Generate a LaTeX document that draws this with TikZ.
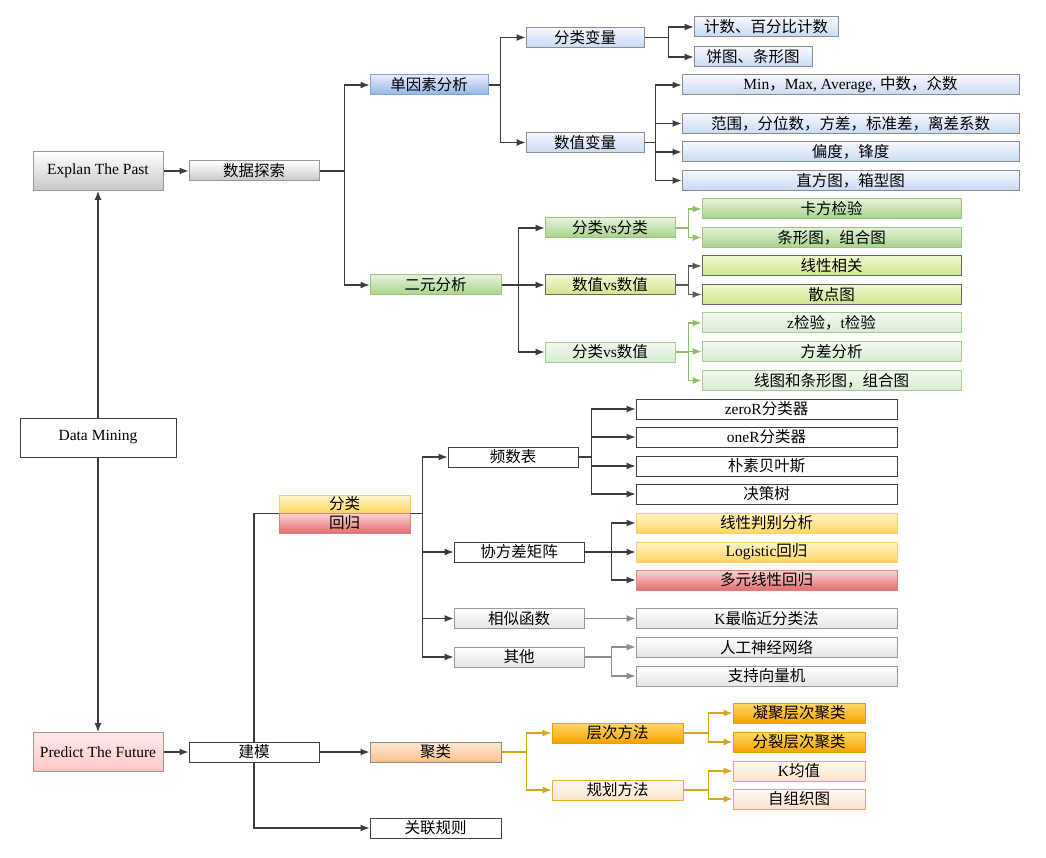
\documentclass[tikz,border=0pt]{standalone}
\usepackage{fontspec}
\setmainfont{Liberation Serif}
\newfontfamily\cjk{Noto Sans CJK SC}
\newcommand\latn[1]{{\rmfamily #1}}
\usetikzlibrary{arrows.meta}

\definecolor{linkgrey}{HTML}{3C3C3C}
\definecolor{linkgreen}{HTML}{8CC06E}
\definecolor{linkgold}{HTML}{D9A521}

\begin{document}
\begin{tikzpicture}[>={Latex[length=9pt,width=7pt]}, x=1pt, y=-1pt,
    box/.style={rectangle, draw, line width=1pt, inner sep=0pt, minimum height=20pt,
        font=\cjk\fontsize{15.5}{17}\selectfont},
    greybox/.style={box, draw=black!40, top color=white, bottom color=black!22},
    whitebox/.style={box, draw=black!75, fill=white},
    pinkbox/.style={box, draw=black!40, top color=red!8, bottom color=red!22},
    bluebox/.style={box, draw={rgb,255:red,126;green,166;blue,217}, top color=blue!8, bottom color={rgb,255:red,142;green,180;blue,227}},
    skybox/.style={box, draw=black!45, top color=blue!3, bottom color={rgb,255:red,198;green,219;blue,244}},
    greenbox/.style={box, draw={rgb,255:red,152;green,198;blue,124}, top color={rgb,255:red,228;green,242;blue,218}, bottom color={rgb,255:red,166;green,211;blue,138}},
    limebox/.style={box, draw=black!60, top color={rgb,255:red,240;green,248;blue,208}, bottom color={rgb,255:red,205;green,230;blue,140}},
    mintbox/.style={box, draw={rgb,255:red,164;green,207;blue,148}, top color={rgb,255:red,243;green,249;blue,240}, bottom color={rgb,255:red,216;green,235;blue,210}},
    yellowbox/.style={box, draw={rgb,255:red,240;green,208;blue,112}, top color={rgb,255:red,255;green,244;blue,204}, bottom color={rgb,255:red,255;green,215;blue,94}},
    redbox/.style={box, draw={rgb,255:red,224;green,128;blue,128}, top color={rgb,255:red,249;green,214;blue,214}, bottom color={rgb,255:red,228;green,108;blue,108}},
    lightbox/.style={box, draw=black!40, top color=white, bottom color=black!10},
    peachbox/.style={box, draw=black!45, top color={rgb,255:red,253;green,232;blue,212}, bottom color={rgb,255:red,251;green,194;blue,140}},
    orangebox/.style={box, draw={rgb,255:red,232;green,160;blue,0}, top color={rgb,255:red,255;green,217;blue,102}, bottom color={rgb,255:red,245;green,163;blue,0}},
    creambox/.style={box, draw={rgb,255:red,232;green,176;blue,64}, top color={rgb,255:red,255;green,250;blue,245}, bottom color={rgb,255:red,253;green,227;blue,204}},
    bigbox/.style={minimum height=39pt, font=\rmfamily\fontsize{15.5}{17}\selectfont},
    link/.style={->, line width=1.2pt, draw=linkgrey},
    greenlink/.style={link, draw=linkgreen},
    goldlink/.style={link, draw=linkgold},
    palelink/.style={link, draw=black!45}]
    \useasboundingbox (0,0) rectangle (1046,858);
    \path
    % 1st layer
    +(98,171) node[greybox, bigbox, minimum width=130pt] (past) {Explan The Past}
    +(98,437.5) node[whitebox, bigbox, minimum width=156pt] (mining) {Data Mining}
    +(98,752) node[pinkbox, bigbox, minimum width=130pt] (future) {Predict The Future}
    % 2nd layer
    +(254,171) node[greybox, minimum width=130pt] (explore) {数据探索}
    +(254,752) node[whitebox, minimum width=130pt] (model) {建模}
    % univariate
    +(429,85) node[bluebox, minimum width=118pt] (uni) {单因素分析}
    +(585,37.5) node[skybox, minimum width=118pt] (catvar) {分类变量}
    +(585,142.5) node[skybox, minimum width=118pt] (numvar) {数值变量}
    +(766,27) node[skybox, minimum width=144pt] (count) {计数、百分比计数}
    +(753,57) node[skybox, minimum width=118pt] (pie) {饼图、条形图}
    +(850.5,85) node[skybox, minimum width=337pt] (minmax) {\latn{Min}，\latn{Max, Average, }中数，众数}
    +(850.5,123.5) node[skybox, minimum width=337pt] (spread) {范围，分位数，方差，标准差，离差系数}
    +(850.5,152) node[skybox, minimum width=337pt] (skew) {偏度，锋度}
    +(850.5,180.5) node[skybox, minimum width=337pt] (hist) {直方图，箱型图}
    % bivariate
    +(435.5,285) node[greenbox, minimum width=131pt] (bi) {二元分析}
    +(610,228) node[greenbox, minimum width=130pt] (cc) {分类\latn{vs}分类}
    +(610,285) node[limebox, minimum width=130pt] (nn) {数值\latn{vs}数值}
    +(610,352) node[mintbox, minimum width=130pt] (cn) {分类\latn{vs}数值}
    +(831.5,209) node[greenbox, minimum width=259pt] (chi) {卡方检验}
    +(831.5,237.5) node[greenbox, minimum width=259pt] (barcc) {条形图，组合图}
    +(831.5,266) node[limebox, minimum width=259pt] (corr) {线性相关}
    +(831.5,294.5) node[limebox, minimum width=259pt] (scatter) {散点图}
    +(831.5,323) node[mintbox, minimum width=259pt] (ztest) {\latn{z}检验，\latn{t}检验}
    +(831.5,351.5) node[mintbox, minimum width=259pt] (anova) {方差分析}
    +(831.5,380.5) node[mintbox, minimum width=259pt] (linebar) {线图和条形图，组合图}
    % classification and regression
    +(344.5,504) node[yellowbox, minimum width=131pt, minimum height=18pt] (classify) {分类}
    +(344.5,523) node[redbox, minimum width=131pt] (regress) {回归}
    +(513,457) node[whitebox, minimum width=130pt] (freq) {频数表}
    +(519,552) node[whitebox, minimum width=130pt] (covar) {协方差矩阵}
    +(519,618.5) node[lightbox, minimum width=130pt] (simfun) {相似函数}
    +(519,657) node[lightbox, minimum width=130pt] (other) {其他}
    +(766.5,409) node[whitebox, minimum width=261pt] (zeror) {\latn{zeroR}分类器}
    +(766.5,437) node[whitebox, minimum width=261pt] (oner) {\latn{oneR}分类器}
    +(766.5,466) node[whitebox, minimum width=261pt] (bayes) {朴素贝叶斯}
    +(766.5,494) node[whitebox, minimum width=261pt] (tree) {决策树}
    +(766.5,523) node[yellowbox, minimum width=261pt] (lda) {线性判别分析}
    +(766.5,552) node[yellowbox, minimum width=261pt] (logit) {\latn{Logistic}回归}
    +(766.5,580) node[redbox, minimum width=261pt] (mlr) {多元线性回归}
    +(766.5,618.5) node[lightbox, minimum width=261pt] (knn) {\latn{K}最临近分类法}
    +(766.5,647) node[lightbox, minimum width=261pt] (ann) {人工神经网络}
    +(766.5,676) node[lightbox, minimum width=261pt] (svm) {支持向量机}
    % clustering and association
    +(435.5,752) node[peachbox, minimum width=131pt] (cluster) {聚类}
    +(435.5,828) node[whitebox, minimum width=131pt] (assoc) {关联规则}
    +(617.5,733) node[orangebox, minimum width=131pt] (hier) {层次方法}
    +(617.5,790) node[creambox, minimum width=131pt] (plan) {规划方法}
    +(799,713) node[orangebox, minimum width=132pt] (agglo) {凝聚层次聚类}
    +(799,742) node[orangebox, minimum width=132pt] (divis) {分裂层次聚类}
    +(799,771) node[creambox, minimum width=132pt] (kmeans) {\latn{K}均值}
    +(799,799) node[creambox, minimum width=132pt] (som) {自组织图};

    \draw[link] (mining) -- (past);
    \draw[link] (mining) -- (future);
    \draw[link] (past) -- (explore);
    \draw[link] (future) -- (model);

    \draw[link] (explore.east) -- ++(25,0) |- (uni.west);
    \draw[link] (explore.east) -- ++(25,0) |- (bi.west);
    \draw[link] (uni.east) -- ++(12,0) |- (catvar.west);
    \draw[link] (uni.east) -- ++(12,0) |- (numvar.west);
    \draw[link] (catvar.east) -- ++(24,0) |- (count.west);
    \draw[link] (catvar.east) -- ++(24,0) |- (pie.west);
    \foreach \leaf in {minmax,spread,skew,hist}
        \draw[link] (numvar.east) -- ++(11,0) |- (\leaf.west);

    \foreach \pair in {cc,nn,cn}
        \draw[link] (bi.east) -- ++(17,0) |- (\pair.west);
    \foreach \leaf in {chi,barcc}
        \draw[greenlink] (cc.east) -- ++(13,0) |- (\leaf.west);
    \foreach \leaf in {corr,scatter}
        \draw[link, draw=black!65] (nn.east) -- ++(13,0) |- (\leaf.west);
    \foreach \leaf in {ztest,anova,linebar}
        \draw[greenlink] (cn.east) -- ++(13,0) |- (\leaf.west);

    \draw[link, -] (model.north) |- (classify.south west);
    \foreach \kind in {freq,covar,simfun,other}
        \draw[link] (classify.south east) -- ++(12,0) |- (\kind.west);
    \foreach \leaf in {zeror,oner,bayes,tree}
        \draw[link] (freq.east) -- ++(13,0) |- (\leaf.west);
    \foreach \leaf in {lda,logit,mlr}
        \draw[link] (covar.east) -- ++(27,0) |- (\leaf.west);
    \draw[palelink] (simfun) -- (knn);
    \foreach \leaf in {ann,svm}
        \draw[palelink] (other.east) -- ++(27,0) |- (\leaf.west);

    \draw[link] (model) -- (cluster);
    \draw[link] (model.south) |- (assoc.west);
    \foreach \way in {hier,plan}
        \draw[goldlink] (cluster.east) -- ++(25,0) |- (\way.west);
    \foreach \leaf in {agglo,divis}
        \draw[goldlink] (hier.east) -- ++(25,0) |- (\leaf.west);
    \foreach \leaf in {kmeans,som}
        \draw[goldlink] (plan.east) -- ++(25,0) |- (\leaf.west);
\end{tikzpicture}
\end{document}
